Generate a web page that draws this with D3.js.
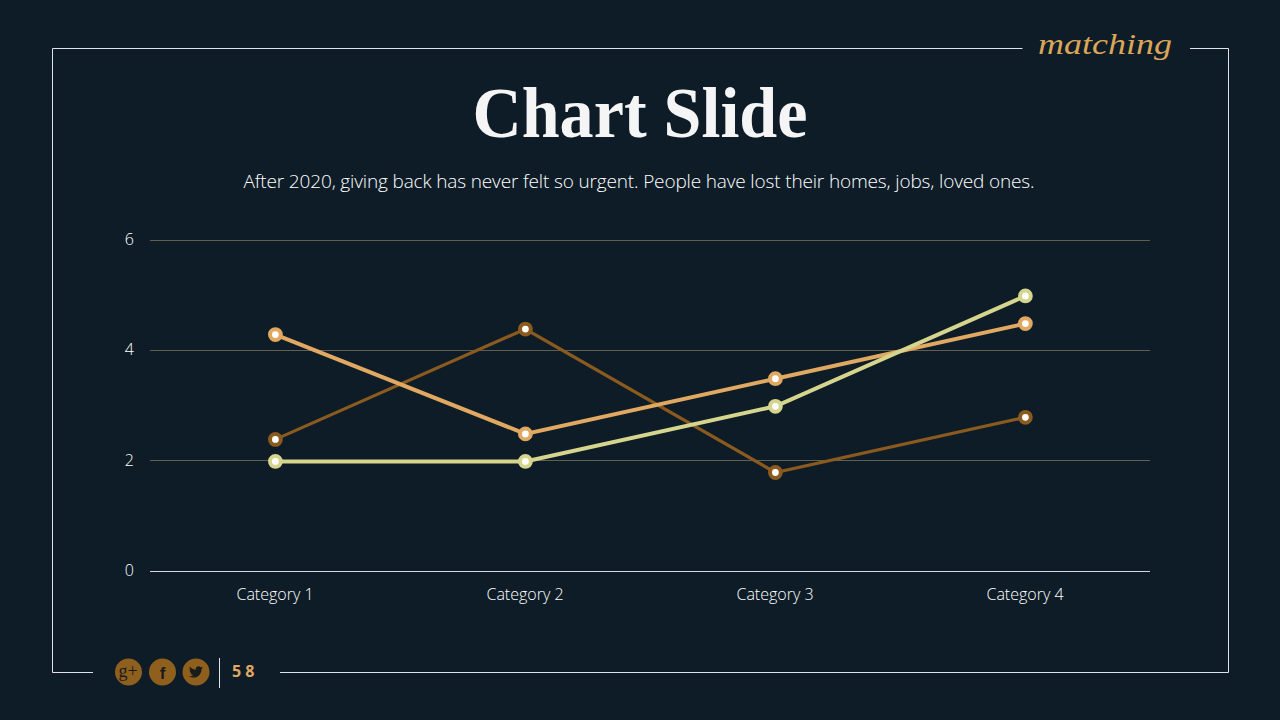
<!DOCTYPE html>
<html><head><meta charset="utf-8">
<script src="https://cdn.jsdelivr.net/npm/d3@7"></script>
<style>html,body{margin:0;padding:0;background:#0d1c27}svg{display:block}</style>
</head><body><svg id="c" width="1280" height="720"></svg>
<script>
const categories = ["Category 1","Category 2","Category 3","Category 4"];
const series1 = [4.3,2.5,3.5,4.5];
const series2 = [2.4,4.4,1.8,2.8];
const series3 = [2,2,3,5];
const yTicks = [0,2,4,6];
const titleText = "Chart Slide";
const subtitleText = "After 2020, giving back has never felt so urgent. People have lost their homes, jobs, loved ones.";
const pageNumber = "58";
const brandText = "matching";

const svg = d3.select("#c");
const sans = "'Open Sans','Noto Sans',sans-serif";
const W = "#ffffff";
svg.append("rect").attr("width",1280).attr("height",720).attr("fill","#0d1c27");

// frame
svg.append("path").attr("fill","none").attr("stroke","#dfe3e3").attr("stroke-width",1)
  .attr("d","M1022.5 48.5H52.5V672.5H93 M280 672.5H1228.5V48.5H1190");

// title
svg.append("text").attr("x",640).attr("y",137).attr("text-anchor","middle")
  .attr("font-family","'Liberation Serif',serif").attr("font-weight",700).attr("font-size",72)
  .attr("textLength",335).attr("lengthAdjust","spacingAndGlyphs")
  .attr("fill","#f5f5f5").text(titleText);
svg.append("text").attr("x",639).attr("y",188).attr("text-anchor","middle")
  .attr("font-family",sans).attr("font-weight",300).attr("font-size",19)
  .attr("textLength",791).attr("fill","#ffffff").text(subtitleText);

// brand
svg.append("text").attr("x",1038).attr("y",54)
  .attr("font-family","'Liberation Serif',serif").attr("font-style","italic").attr("font-size",30)
  .attr("textLength",134).attr("lengthAdjust","spacingAndGlyphs")
  .attr("fill","#dba659").text(brandText);

// scales
const x = d3.scaleBand().domain(categories).range([150,1150]);
const y = d3.scaleLinear().domain([0,6]).range([571,240]);
const cx = d => x(d)+x.bandwidth()/2;

// grid
const gridY = d3.axisLeft(y).tickValues(yTicks).tickSize(-1000).tickFormat(d=>d).offset(0.2);
const gy = svg.append("g").attr("transform","translate(150,0)").call(gridY);
gy.select(".domain").remove();
gy.selectAll(".tick line").attr("stroke",d=>d===0?"#d5d9d9":"#625f52").attr("stroke-width",1)
  .attr("shape-rendering","crispEdges");
gy.selectAll(".tick text").attr("x",-16).attr("dy","0.3em")
  .attr("font-family",sans).attr("font-weight",300).attr("font-size",16).attr("fill",W);

const xAxis = d3.axisBottom(x).tickSize(0).tickPadding(18);
const gx = svg.append("g").attr("transform","translate(0,571)").call(xAxis);
gx.select(".domain").remove();
gx.selectAll(".tick text").attr("font-family",sans).attr("font-weight",300).attr("font-size",16).attr("fill",W);

// series
const seriesDefs = [
  {v:series2,c:"#8a5a1e",w:3.2},
  {v:series1,c:"#e1a862",w:4},
  {v:series3,c:"#d5d58e",w:4}
];
const line = d3.line().x((d,i)=>cx(categories[i])).y(d=>y(d));
const marks = svg.append("g").attr("transform","translate(0.4,0.8)");
seriesDefs.forEach(s=>{
  marks.append("path").datum(s.v).attr("fill","none").attr("stroke",s.c).attr("stroke-width",s.w).attr("d",line);
  marks.append("g").selectAll("circle").data(s.v).join("circle")
    .attr("cx",(d,i)=>cx(categories[i])).attr("cy",d=>y(d)).attr("r",5.4)
    .attr("fill","#fff").attr("stroke",s.c).attr("stroke-width",4);
});

// footer
const iconBg = "#8f5f1e", iconFg = "#1a1c1c";
const icons = [128.5,162.5,196];
svg.append("g").selectAll("circle").data(icons).join("circle")
  .attr("cx",d=>d).attr("cy",672).attr("r",13.5).attr("fill",iconBg);
svg.append("text").attr("x",128).attr("y",677).attr("text-anchor","middle")
  .attr("font-family","'Liberation Serif',serif").attr("font-size",18).attr("fill",iconFg).text("g+");
svg.append("text").attr("x",162.5).attr("y",678.500).attr("text-anchor","middle")
  .attr("font-family","'Liberation Sans',sans-serif").attr("font-weight",700).attr("font-size",17).attr("fill",iconFg).text("f");
svg.append("path").attr("transform","translate(196,672) scale(0.62) translate(-12,-12)").attr("fill",iconFg)
  .attr("d","M23 4.9c-.8.4-1.7.6-2.6.7.9-.6 1.6-1.4 2-2.5-.9.5-1.9.9-2.9 1.1C18.7 3.3 17.5 2.8 16.200 2.800c-2.500 0-4.600 2-4.600 4.600 0 .4 0 .7.100 1C7.900 8.200 4.500 6.400 2.300 3.600c-.4.700-.6 1.500-.6 2.300 0 1.600.8 3 2 3.800-.8 0-1.500-.2-2.100-.6v.1c0 2.200 1.600 4.100 3.700 4.500-.4.100-.8.200-1.200.2-.3 0-.6 0-.9-.1.6 1.800 2.300 3.200 4.300 3.200-1.600 1.200-3.600 2-5.700 2-.4 0-.7 0-1.100-.1 2 1.300 4.500 2.100 7.100 2.100 8.500 0 13.100-7 13.100-13.100v-.6c.9-.6 1.700-1.500 2.300-2.400z");
svg.append("line").attr("x1",219.500).attr("x2",219.500).attr("y1",658).attr("y2",688).attr("stroke","#dfe3e3");
svg.append("text").attr("x",232).attr("y",677).attr("font-family",sans).attr("font-weight",700)
  .attr("font-size",16).attr("letter-spacing",4).attr("fill","#e1a862").text(pageNumber);
</script></body></html>
